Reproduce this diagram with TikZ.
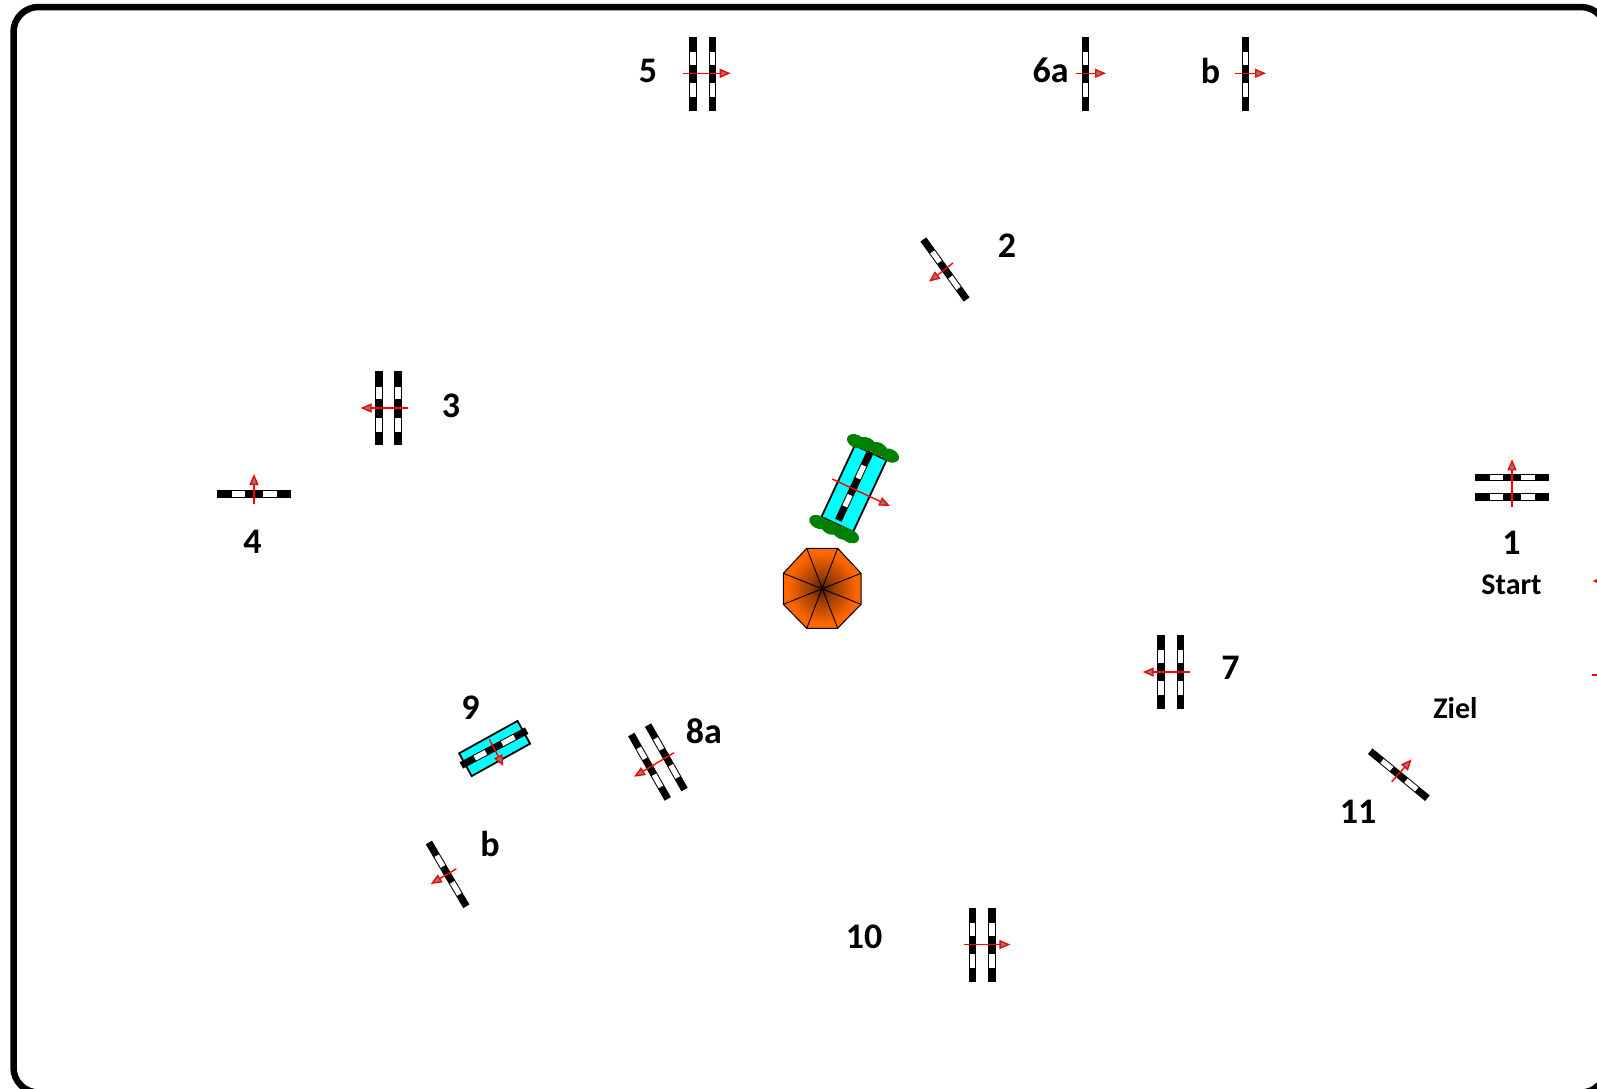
\documentclass[tikz,border=0pt]{standalone}
\usepackage{fontspec}
\setmainfont{Carlito}
\usetikzlibrary{arrows.meta}
\definecolor{umbO}{HTML}{FF6600}
\definecolor{umbD}{HTML}{4A1C00}
\definecolor{pool}{HTML}{00FFFF}
\definecolor{bush}{HTML}{008000}
\pgfdeclareradialshading{umbshade}{\pgfpoint{0bp}{0bp}}{color(0bp)=(umbD); color(8bp)=(umbD!55!umbO); color(22bp)=(umbO); color(50bp)=(umbO)}
\tikzset{
  x=1pt,y=-1pt,
  flag/.style={-{Triangle[length=11pt,width=9pt,fill=gray]},draw=red,line width=1.4pt},
  num/.style={font=\bfseries\fontsize{36}{36}\selectfont,inner sep=0pt,text=black},
  word/.style={font=\bfseries\fontsize{30}{30}\selectfont,inner sep=0pt,text=black},
  poolbox/.style={fill=pool,draw=black,line width=1.8pt},
  bushblob/.style={fill=bush,draw=none},
}
\newcommand{\gatebar}[2]{%
  \begin{scope}[shift={(#1)},rotate=-#2]
    \fill[black] (-37,-3.6) rectangle (37,3.6);
    \fill[white] (-21.7,-2.6) rectangle (-9.2,2.6);
    \fill[white] (9.2,-2.6) rectangle (23.2,2.6);
  \end{scope}}
\begin{document}
\begin{tikzpicture}
\useasboundingbox (0,0) rectangle (1597,1088);
\fill[white] (0,0) rectangle (1597,1088);
\draw[line width=6.5pt,black,rounded corners=25pt] (13.5,7) rectangle (1606,1092.5);

% centre gate with pool and bushes
\begin{scope}[shift={(854,488.5)},rotate=65]
  \draw[poolbox] (-39.5,-17.5) rectangle (39.5,17.5);
\end{scope}
\foreach \p in {{856,441.2},{866.7,444},{878.3,449},{890,455.5},{818.3,522},{830,527.6},{841.7,532.6},{850,536.2}}
  \fill[bushblob,rotate around={-25:(\p)}] (\p) ellipse (9.5 and 6.5);
\gatebar{854,486.7}{-65}
\draw[flag] (832.3,479) -- (890,506);

% umbrella
\path[shade,shading=umbshade] (806.7,548.3) -- (837.7,548.3) -- (861,573.3) -- (861,604.3) -- (837.7,628.3) -- (806.7,628.3) -- (783.3,604.3) -- (783.3,573.3) -- cycle;
\draw[black,line width=.9pt] (806.7,548.3) -- (837.7,628.3) (837.7,548.3) -- (806.7,628.3) (861,573.3) -- (783.3,604.3) (861,604.3) -- (783.3,573.3);
\draw[black,line width=1pt] (806.7,548.3) -- (837.7,548.3) -- (861,573.3) -- (861,604.3) -- (837.7,628.3) -- (806.7,628.3) -- (783.3,604.3) -- (783.3,573.3) -- cycle;

% gate 1
\gatebar{1512,477.7}{0}\gatebar{1512,497}{0}
\draw[flag] (1512,506.7) -- (1512,459.3);
% gate 2
\gatebar{945,269.5}{54.2}
\draw[flag] (953,263) -- (929,281.7);
% gate 3
\gatebar{379,408.3}{90}\gatebar{398,408.3}{90}
\draw[flag] (408.4,408) -- (360.5,408);
% gate 4
\gatebar{254,494}{0}
\draw[flag] (254,504) -- (254,474);
% gate 5
\gatebar{693,73.8}{90}\gatebar{712.3,73.8}{90}
\draw[flag] (683,73.3) -- (730.7,73.3);
% gate 6a, b
\gatebar{1085.7,73.8}{90}
\draw[flag] (1075.5,73.3) -- (1106,73.3);
\gatebar{1245.6,73.8}{90}
\draw[flag] (1235.4,73.3) -- (1266,73.3);
% gate 7
\gatebar{1161,672}{90}\gatebar{1180.4,672}{90}
\draw[flag] (1189.5,672) -- (1142.7,672);
% gate 8a
\gatebar{649.5,766.7}{60.5}\gatebar{666.3,757.3}{60.5}
\draw[flag] (674,752.7) -- (634,776.7);
% gate 8b
\gatebar{447.6,874.4}{59.6}
\draw[flag] (456.3,868.8) -- (430.8,884);
% gate 9
\begin{scope}[shift={(494.6,748.5)},rotate=29]
  \draw[poolbox] (-33.4,-13) rectangle (33.4,13);
\end{scope}
\gatebar{494,748}{-28}
\draw[flag] (489.3,739.3) -- (503.3,766);
% gate 10
\gatebar{972.7,944.8}{90}\gatebar{992,944.8}{90}
\draw[flag] (963.5,944.5) -- (1010.4,944.5);
% gate 11
\gatebar{1398.8,774.7}{39.4}
\draw[flag] (1391.7,781.7) -- (1411.7,759.3);
% cut-off flags at the right edge
\draw[flag] (1606,581) -- (1592.5,581);
\draw[red,line width=1.4pt] (1597,675) -- (1592.3,675);

% labels
\node[num] (l5) at (648,70.5) {5};
\node[num] (l6a) at (1050.5,70.5) {6a};
\node[num] (l6b) at (1210.5,70.5) {b};
\node[num] (l2) at (1007,245.5) {2};
\node[num] (l3) at (451,405.9) {3};
\node[num] (l4) at (252.6,542.3) {4};
\node[num] (l1) at (1511.5,542.3) {1};
\node[word] (lstart) at (1511.5,585) {Start};
\node[num] (l7) at (1230.5,668) {7};
\node[word] (lziel) at (1455.4,708.5) {Ziel};
\node[num] (l11) at (1358,812) {11};
\node[num] (l8a) at (703.8,731) {8a};
\node[num] (l9) at (470.5,708) {9};
\node[num] (l8b) at (490,844) {b};
\node[num] (l10) at (864,937) {10};
\end{tikzpicture}
\end{document}
